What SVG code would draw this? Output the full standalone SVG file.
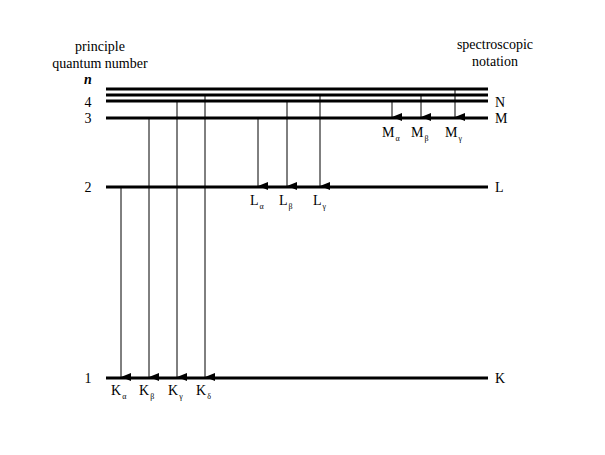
<svg xmlns="http://www.w3.org/2000/svg" width="605" height="455" viewBox="0 0 605 455">
<style>
text{font-family:"Liberation Serif",serif;font-size:14px;fill:#000}
.s{font-size:8px}
.lv{stroke:#000;stroke-width:3}
.ar{stroke:#000;stroke-width:1;marker-end:url(#a)}
</style>
<defs><marker id="a" markerWidth="8" markerHeight="10" refX="4" refY="10" orient="auto-start-reverse" markerUnits="userSpaceOnUse" viewBox="0 0 8 10"><path d="M0,0 L8,0 L4,10 Z" transform="rotate(0)" fill="#000"/></marker></defs>
<rect width="605" height="455" fill="#fff"/>
<g id="header">
<text x="100" y="51" text-anchor="middle">principle</text>
<text x="100" y="68" text-anchor="middle">quantum number</text>
<text x="88" y="84" text-anchor="middle" font-style="italic" font-weight="bold">n</text>
<text x="495" y="49" text-anchor="middle">spectroscopic</text>
<text x="495" y="66" text-anchor="middle">notation</text>
</g>
<g id="levels">
<line class="lv" x1="106" y1="89" x2="488" y2="89"/>
<line class="lv" x1="106" y1="95" x2="488" y2="95"/>
<line class="lv" x1="106" y1="101" x2="488" y2="101"/>
<line class="lv" x1="106" y1="118" x2="488" y2="118"/>
<line class="lv" x1="106" y1="187" x2="488" y2="187"/>
<line class="lv" x1="106" y1="378" x2="488" y2="378"/>
<text x="88" y="107" text-anchor="middle">4</text>
<text x="88" y="123" text-anchor="middle">3</text>
<text x="88" y="192" text-anchor="middle">2</text>
<text x="88" y="383" text-anchor="middle">1</text>
<text x="495" y="107">N</text>
<text x="495" y="123">M</text>
<text x="495" y="192">L</text>
<text x="495" y="383">K</text>
</g>
<g id="connectors">
<line class="ar" x1="121" y1="188" x2="121" y2="377"/>
<line class="ar" x1="149" y1="119" x2="149" y2="377"/>
<line class="ar" x1="177" y1="102" x2="177" y2="377"/>
<line class="ar" x1="205" y1="96" x2="205" y2="377"/>
<line class="ar" x1="258" y1="119" x2="258" y2="186"/>
<line class="ar" x1="287" y1="102" x2="287" y2="186"/>
<line class="ar" x1="320" y1="96" x2="320" y2="186"/>
<line class="ar" x1="392" y1="102" x2="392" y2="117"/>
<line class="ar" x1="421" y1="96" x2="421" y2="117"/>
<line class="ar" x1="455" y1="90" x2="455" y2="117"/>
</g>
<g id="labels">
<text x="382" y="137">M<tspan class="s" dx="1" dy="4">α</tspan></text>
<text x="411" y="137">M<tspan class="s" dx="1" dy="4">β</tspan></text>
<text x="445" y="137">M<tspan class="s" dx="1" dy="4">γ</tspan></text>
<text x="250" y="205">L<tspan class="s" dx="1" dy="4">α</tspan></text>
<text x="279" y="205">L<tspan class="s" dx="1" dy="4">β</tspan></text>
<text x="313" y="205">L<tspan class="s" dx="1" dy="4">γ</tspan></text>
<text x="111" y="395">K<tspan class="s" dx="1" dy="4">α</tspan></text>
<text x="139" y="395">K<tspan class="s" dx="1" dy="4">β</tspan></text>
<text x="168" y="395">K<tspan class="s" dx="1" dy="4">γ</tspan></text>
<text x="196" y="395">K<tspan class="s" dx="1" dy="4">δ</tspan></text>
</g>
</svg>
